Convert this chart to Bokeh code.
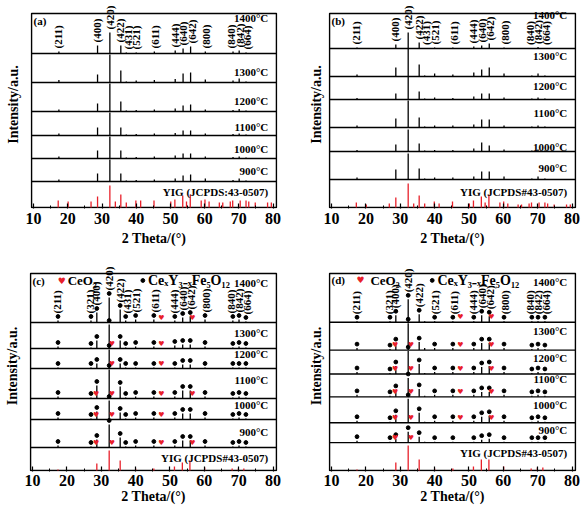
from bokeh.plotting import figure
from bokeh.models import Range1d, FixedTicker, Span, Label
from bokeh.layouts import column, row
from bokeh.embed import file_html
from bokeh.resources import INLINE
from bokeh.core.properties import value

FONT = "Liberation Serif"
RED = "#e8202a"
X0, X1 = 9.4, 81.0
PADX = 0.3      # room so the box lines are not clipped
HEAD = 13       # room above the box for the tallest hkl label

# ---------------- data ----------------
x_ticks = [10, 20, 30, 40, 50, 60, 70, 80]
x_minor = [15, 25, 35, 45, 55, 65, 75]
temps = ["1400°C", "1300°C", "1200°C", "1100°C", "1000°C", "900°C"]

hkl = ["(211)", "(321)", "(400)", "(420)", "(422)", "(431)", "(521)", "(611)",
       "(444)", "(640)", "(642)", "(800)", "(840)", "(842)", "(664)"]
hkl_2theta = [17.4, 27.0, 28.7, 32.3, 35.5, 37.1, 40.0, 45.3,
              51.4, 53.7, 55.9, 60.2, 68.3, 70.1, 72.1]
hkl_label_2theta = [17.0, 26.6, 28.6, 32.2, 35.4, 37.5, 40.0, 45.6,
                    51.3, 53.7, 56.2, 60.5, 67.8, 70.2, 72.4]
ceo2_2theta = [28.5, 33.1, 47.5, 56.5]

# YIG reference (JCPDS 43-0507) sticks
ref_2theta = [17.2, 20.1, 26.8, 28.7, 32.3, 33.9, 35.5, 37.1, 39.9, 41.3, 45.2, 50.1,
              51.3, 53.6, 54.7, 55.8, 59.0, 60.1, 61.3, 64.3, 65.3, 67.5, 68.2, 70.4,
              72.1, 72.9, 74.8, 78.4, 79.5]
ref_int_a = [7, 6, 6, 11, 22, 6, 13, 5, 7, 7, 7, 6, 8, 12, 6, 13, 7, 8, 6, 5, 5, 6, 7, 7, 7, 6, 5, 5, 5]
ref_int_b = [5, 3, 4, 10, 24, 4, 12, 4, 6, 4, 6, 4, 7, 11, 5, 13, 5, 6, 4, 3, 3, 4, 5, 5, 5, 4, 3, 3, 3]
ref_sub_2theta = [17.4, 28.7, 32.3, 35.5, 40.0, 45.3, 51.3, 53.6, 55.8, 60.1, 68.1, 69.9, 71.5]
ref_int_c = [1, 7, 20, 10, 2, 2, 4, 8, 10, 3, 2, 2, 2]
ref_int_d = [1, 8, 25, 11, 2, 2, 4, 11, 11, 4, 2, 3, 3]

# peak intensities (a.u.), rows = 1400, 1300, 1200, 1100, 1000, 900 °C
int_a = [[2, 0.5, 8, 21, 8, 1, 1, 2, 3, 5, 7, 2, 2, 3, 1],
         [2.5, 0.5, 8, 28, 12, 1, 2, 2.5, 3.5, 9, 10, 3, 2, 4, 1],
         [2, 0.5, 8, 28, 10, 1, 1.5, 2, 3, 6, 7, 2, 1.5, 2.5, 1],
         [2, 0.5, 8, 23, 8, 1, 1.5, 2, 2.5, 5, 5, 2, 1.5, 2, 1],
         [2, 0.5, 8, 22, 8, 1, 1.5, 2, 3, 5, 5, 2, 1.5, 2, 1],
         [2, 0.5, 8, 22, 8, 1, 1.5, 2, 3, 6, 7, 3, 1.5, 3, 1]]
int_b = [[1, 0.5, 4, 16, 6, 0.5, 1, 1, 2, 3, 5, 1, 0.5, 1.5, 0.5],
         [2, 0.5, 9, 28, 12, 1, 3, 2, 4, 7, 9, 3, 1, 3, 1],
         [1.5, 0.5, 6, 23, 8, 1, 2, 1.5, 3, 6, 6, 2, 1, 2, 1],
         [2, 0.5, 9, 27, 10, 1, 2, 2, 3, 8, 8, 2, 1, 2, 1],
         [1.5, 0.5, 7, 22, 8, 1, 1.5, 1.5, 3, 9, 6, 2, 1, 2, 1],
         [2, 0.5, 10, 26, 11, 1, 2, 2, 3, 8, 8, 3, 1, 3, 1]]
int_c = [[2, 2, 10, 25, 13, 2, 3, 3, 2, 5, 6, 3, 2, 3, 1],
         [2, 1, 8, 24, 8, 1, 2, 2, 3, 4, 4, 2, 1, 2, 1],
         [1, 1, 5, 19, 5, 1, 1, 1, 1, 4, 4, 1, 1, 1, 1],
         [2, 1, 13, 29, 12, 1, 2, 2, 2, 8, 8, 2, 1, 2, 1],
         [2, 1, 8, 19, 7, 1, 2, 2, 2, 6, 6, 2, 1, 2, 1],
         [2, 1, 8, 23, 10, 1, 2, 2, 2, 7, 7, 2, 1, 2, 1]]
int_d = [[1, 1, 7, 23, 8, 1, 1, 1, 1, 7, 6, 1, 1, 1, 1],
         [2, 1, 7, 27, 8, 2, 2, 2, 2, 7, 7, 2, 1, 2, 1],
         [2, 1, 8, 23, 10, 1, 2, 2, 2, 7, 8, 2, 1, 2, 1],
         [2, 1, 7, 19, 8, 1, 2, 2, 2, 5, 5, 2, 1, 2, 1],
         [2, 1, 8, 24, 10, 1, 2, 2, 2, 6, 7, 2, 1, 2, 1],
         [2, 1, 4, 11, 6, 1, 1, 1, 1, 3, 4, 1, 1, 1, 1]]
# CeO2 reflections present (1 = seen), rows = 1400 ... 900 °C
ce_c = [[0, 0, 1, 1], [0, 1, 1, 0], [0, 1, 1, 0], [1, 1, 1, 1], [1, 1, 1, 0], [1, 1, 1, 1]]
ce_d = [[0, 0, 1, 1], [1, 1, 1, 1], [1, 1, 1, 1], [1, 1, 1, 1], [1, 1, 1, 1], [1, 1, 0, 0]]

labels_ab = [0, 2, 3, 4, 5, 6, 7, 8, 9, 10, 11, 12, 13, 14]
labels_c = list(range(15))
labels_d = [0, 1, 2, 3, 4, 6, 7, 8, 9, 10, 11, 12, 13, 14]

# ---------------- layout (stack offsets, label heights) ----------------
sec_a = [0, 26, 49, 72, 96, 125, 154, 194]
sec_b = [0, 28, 56, 80, 108, 131, 159, 194]
sec_c = [0, 23, 51, 72, 102, 122, 148, 197]
sec_d = [0, 28, 48, 74, 97, 121, 149, 198]
ty_a = [190, 136, 107, 81, 59, 37, 16]
ty_b = [193, 152, 122, 95, 61, 40, 16]
ty_c = [188, 138, 117, 91, 66, 39, 13]
ty_d = [189, 140, 113, 92, 66, 41, 18]


def make_panel(tag, w, h, bl, br, bt, bb, sec, ty, ints, lab_idx, rx, ry, yig_text,
               ce=None, legend=None, ylab_standoff=10, xlab_standoff=4, tick_standoff=4):
    top = sec[-1]
    p = figure(width=w, height=h, x_range=Range1d(X0 - PADX, X1 + PADX),
               y_range=Range1d(-1, top + HEAD),
               output_backend="svg", toolbar_location=None,
               min_border_left=bl - 1, min_border_right=br - 1,
               min_border_top=bt - HEAD, min_border_bottom=bb - 1)
    p.grid.visible = False
    p.outline_line_color = None

    xa = p.xaxis[0]
    xa.ticker = FixedTicker(ticks=x_ticks, minor_ticks=x_minor)
    xa.major_tick_in = 5
    xa.major_tick_out = 0
    xa.minor_tick_in = 3
    xa.minor_tick_out = 0
    xa.axis_line_color = None
    xa.major_tick_line_width = 1.2
    xa.major_label_text_font = FONT
    xa.major_label_text_font_style = "bold"
    xa.major_label_text_font_size = "16px"
    xa.major_label_text_color = "black"
    xa.major_label_standoff = tick_standoff
    xa.axis_label = "2 Theta/(°)"
    xa.axis_label_text_font = FONT
    xa.axis_label_text_font_style = "bold"
    xa.axis_label_text_font_size = "14px"
    xa.axis_label_text_color = "black"
    xa.axis_label_standoff = xlab_standoff

    ya = p.yaxis[0]
    ya.ticker = FixedTicker(ticks=[])
    ya.major_tick_line_color = None
    ya.minor_tick_line_color = None
    ya.axis_line_color = None
    ya.axis_label = "Intensity/a.u."
    ya.axis_label_text_font = FONT
    ya.axis_label_text_font_style = "bold"
    ya.axis_label_text_font_size = "14px"
    ya.axis_label_text_color = "black"
    ya.axis_label_standoff = ylab_standoff

    # box around the stacked patterns
    p.quad(left=[X0], right=[X1], bottom=[0], top=[top], fill_color=None,
           line_color="black", line_width=1.5)

    dots = ce is not None
    sx, sy0, sy1 = [], [], []
    dx, dy = [], []
    hx, hy = [], []
    bx0, bx1, by = [], [], []
    for i in range(6):
        base = sec[6 - i]
        bx0.append(X0)
        bx1.append(X1)
        by.append(base)
        for k, pos in enumerate(hkl_2theta):
            sx.append(pos)
            sy0.append(base)
            sy1.append(base + ints[i][k])
        if dots:
            for k in lab_idx:
                dx.append(hkl_2theta[k])
                dy.append(base + ints[i][k] + 4)
            for j, pos in enumerate(ceo2_2theta):
                if ce[i][j]:
                    hx.append(pos)
                    hy.append(base + 5)
    p.segment(x0=bx0, y0=by, x1=bx1, y1=by, line_color="black", line_width=1.4)
    p.segment(x0=sx, y0=sy0, x1=sx, y1=sy1, line_color="black", line_width=1.3)
    p.segment(x0=rx, y0=[0] * len(rx), x1=rx, y1=ry, line_color=RED, line_width=1.3)
    if dots:
        p.scatter(x=dx, y=dy, size=3.8, color="black")
        p.text(x=hx, y=hy, text=["♥"] * len(hx), text_color=RED, text_font_size="7px",
               text_align="center", text_baseline="middle", text_font=value("DejaVu Sans"))

    # hkl labels (rotated, above the 1400 °C pattern)
    base = sec[6]
    for k in lab_idx:
        yy = base + ints[0][k] + (4 if dots else 0) + 3
        p.add_layout(Label(x=hkl_label_2theta[k], y=yy, text=hkl[k], angle=90, angle_units="deg",
                           text_align="left", text_baseline="middle", text_font=FONT,
                           text_font_style="bold", text_font_size="11px", text_color="black"))

    # temperature labels
    for txt, yy in zip(temps + [yig_text], ty):
        p.add_layout(Label(x=78.6, y=yy, text=txt, text_align="right", text_baseline="middle",
                           text_font=FONT, text_font_style="bold", text_font_size="11px",
                           text_color="black"))
    p.add_layout(Label(x=X0, y=top, x_offset=2, y_offset=-1, text=tag, text_align="left",
                       text_baseline="top", text_font=FONT, text_font_style="bold",
                       text_font_size="11px", text_color="black"))

    if legend is not None:
        hxl, cxl, dxl, txl, yl = legend
        p.text(x=[hxl], y=[yl], text=["♥"], text_color=RED, text_font_size="9px",
               text_align="center", text_baseline="middle", text_font=value("DejaVu Sans"))
        p.add_layout(Label(x=cxl, y=yl, text="CeO₂", text_align="left", text_baseline="middle",
                           text_font=FONT, text_font_style="bold", text_font_size="13px",
                           text_color="black"))
        p.scatter(x=[dxl], y=[yl], size=3.8, color="black")
        p.add_layout(Label(x=txl, y=yl, text="CeₓY₃₋ₓFe₅O₁₂", text_align="left",
                           text_baseline="middle", text_font=FONT, text_font_style="bold",
                           text_font_size="14px", text_color="black"))
    return p


pa = make_panel("(a)", 290, 255, 31, 14, 13, 48, sec_a, ty_a, int_a, labels_ab,
                ref_2theta, ref_int_a, "YIG (JCPDS:43-0507)", ylab_standoff=10)
pb = make_panel("(b)", 291, 255, 39, 6, 13, 48, sec_b, ty_b, int_b, labels_ab,
                ref_2theta, ref_int_b, "YIG (JCPDS#43-0507)", ylab_standoff=5)
pc = make_panel("(c)", 290, 254, 30, 14, 18, 39, sec_c, ty_c, int_c, labels_c,
                ref_sub_2theta, ref_int_c, "YIG (JCPDS#43-0507)", ce=ce_c,
                legend=(18.5, 20.2, 42.1, 43.6, 190), ylab_standoff=10,
                xlab_standoff=0, tick_standoff=3)
pd_ = make_panel("(d)", 291, 254, 39, 6, 18, 38, sec_d, ty_d, int_d, labels_d,
                 ref_sub_2theta, ref_int_d, "YIG (JCPDS#43-0507)", ce=ce_d,
                 legend=(18.4, 21.3, 39.3, 40.8, 191), ylab_standoff=5,
                 xlab_standoff=0, tick_standoff=3)

layout = column(row(pa, pb), row(pc, pd_))
open("out.html", "w").write(file_html(layout, INLINE))
